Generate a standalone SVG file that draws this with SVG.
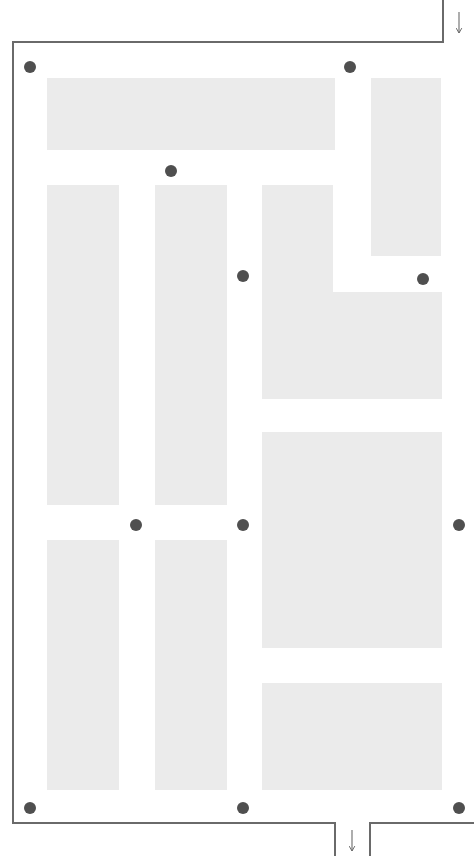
<svg xmlns="http://www.w3.org/2000/svg" width="474" height="856" viewBox="0 0 474 856">
  <defs>
    <marker id="ah" viewBox="0 0 10 10" refX="9" refY="5" markerWidth="7" markerHeight="7" orient="auto" markerUnits="userSpaceOnUse">
      <path d="M2,1 L9,5 L2,9" fill="none" stroke="#666" stroke-width="1.4"/>
    </marker>
  </defs>
  <style>
    .blk { fill: #ebebeb; }
    .wall { fill: none; stroke: #6a6a6a; stroke-width: 2; }
    .dot { fill: #4f4f4f; }
    .arr { fill: none; stroke: #777; stroke-width: 1.2; }
  </style>
  <rect width="474" height="856" fill="#ffffff"/>

  <g id="walls">
    <path class="wall" d="M443,0 V42 H13 V823 H335 V856"/>
    <path class="wall" d="M370,856 V823 H474"/>
  </g>

  <g id="block-a"><rect class="blk" x="47" y="78" width="288" height="72"/></g>
  <g id="block-b"><rect class="blk" x="371" y="78" width="70" height="178"/></g>
  <g id="block-c"><rect class="blk" x="47" y="185" width="72" height="320"/></g>
  <g id="block-d"><rect class="blk" x="155" y="185" width="72" height="320"/></g>
  <g id="block-e"><path class="blk" d="M262,185 H333 V292 H442 V399 H262 Z"/></g>
  <g id="block-f"><rect class="blk" x="262" y="432" width="180" height="216"/></g>
  <g id="block-g"><rect class="blk" x="47" y="540" width="72" height="250"/></g>
  <g id="block-h"><rect class="blk" x="155" y="540" width="72" height="250"/></g>
  <g id="block-i"><rect class="blk" x="262" y="683" width="180" height="107"/></g>

  <g id="dots">
    <circle class="dot" cx="30" cy="67" r="6"/>
    <circle class="dot" cx="350" cy="67" r="6"/>
    <circle class="dot" cx="171" cy="171" r="6"/>
    <circle class="dot" cx="243" cy="276" r="6"/>
    <circle class="dot" cx="423" cy="279" r="6"/>
    <circle class="dot" cx="136" cy="525" r="6"/>
    <circle class="dot" cx="243" cy="525" r="6"/>
    <circle class="dot" cx="459" cy="525" r="6"/>
    <circle class="dot" cx="30" cy="808" r="6"/>
    <circle class="dot" cx="243" cy="808" r="6"/>
    <circle class="dot" cx="459" cy="808" r="6"/>
  </g>

  <g id="connectors">
    <line class="arr" x1="459" y1="12" x2="459" y2="33" marker-end="url(#ah)"/>
    <line class="arr" x1="352" y1="830" x2="352" y2="851" marker-end="url(#ah)"/>
  </g>
</svg>
